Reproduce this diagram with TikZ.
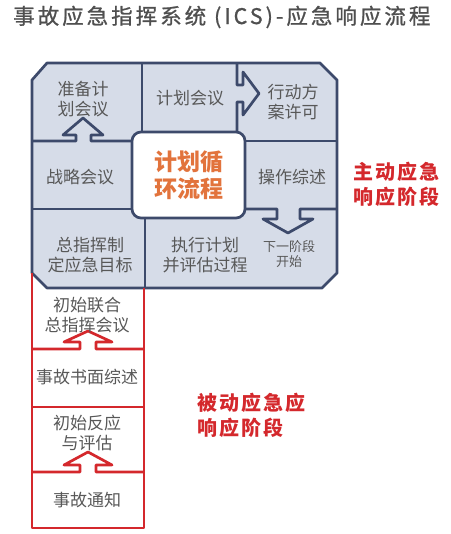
\documentclass[tikz,border=0pt]{standalone}
\usepackage{fontspec}
\setmainfont{Noto Sans CJK SC}
\definecolor{navy}{RGB}{61,74,107}
\definecolor{pale}{RGB}{214,220,232}
\definecolor{alert}{RGB}{212,40,44}
\definecolor{ink}{RGB}{88,88,88}
\definecolor{tangerine}{RGB}{226,115,60}

\begin{document}
\begin{tikzpicture}[x=1pt,y=-1pt,
    boxtext/.style={text=ink,align=center,inner sep=0pt,font=\fontsize{17}{20}\selectfont},
    smalltext/.style={text=ink,align=center,inner sep=0pt,font=\fontsize{13}{15.5}\selectfont},
    phase/.style={text=alert,align=left,anchor=west,inner sep=0pt,
      font=\fontsize{20}{25}\selectfont\bfseries\addfontfeature{LetterSpace=10}},
    navyline/.style={navy,line width=2.7pt,line join=round},
    redline/.style={alert,line width=2.7pt,line join=round}]
  \useasboundingbox (0,0) rectangle (450,534);

  \node[text=ink!90!black,anchor=west,inner sep=0pt,
    font=\fontsize{21.5}{25}\selectfont\addfontfeature{LetterSpace=14,FakeBold=1}] (title) at (13,17)
    {事故应急指挥系统 (ICS)-应急响应流程};

  \draw[navyline,fill=pale] (47,63) -- (320,63) -- (337,80) -- (337,273) -- (322,288)
    -- (47,288) -- (32,273) -- (32,80) -- cycle;

  \draw[navyline] (142,63) -- (142,131);
  \draw[navyline] (237,63) -- (237,85) -- (243,85) -- (243,72) -- (259,93.5)
    -- (243,115) -- (243,102) -- (237,102) -- (237,131);
  \draw[navyline] (32,141) -- (76,141) -- (76,135) -- (63,135) -- (83,118)
    -- (103,135) -- (91,135) -- (91,141) -- (132,141);
  \draw[navyline] (245,141) -- (337,141);
  \draw[navyline] (32,209) -- (132,209);
  \draw[navyline] (245,209) -- (277,209) -- (277,219) -- (263,219) -- (288,233)
    -- (313,219) -- (300,219) -- (300,209) -- (337,209);
  \draw[navyline] (145,218) -- (145,288);

  \node[draw=navy,fill=white,line width=2.7pt,rounded corners=9pt,
    minimum width=113pt,minimum height=86pt,align=center,text=tangerine,
    font=\fontsize{23}{27}\selectfont\bfseries] (hub) at (188.5,175) {计划循\\环流程};

  \node[boxtext] (prep)       at (83,99)   {准备计\\划会议};
  \node[boxtext] (plan)       at (190,98)  {计划会议};
  \node[boxtext] (approve)    at (293,102) {行动方\\案许可};
  \node[boxtext] (strategy)   at (80,177)  {战略会议};
  \node[boxtext] (brief)      at (292,177) {操作综述};
  \node[boxtext] (objectives) at (90,255)  {总指挥制\\定应急目标};
  \node[boxtext] (execute)    at (205,255) {执行计划\\并评估过程};
  \node[smalltext] (next)     at (289,254) {下一阶段\\开始};

  \draw[redline] (32,273) -- (32,528) -- (144,528) -- (144,288);
  \draw[redline] (32,349) -- (80,349) -- (80,342) -- (64,342) -- (88,331)
    -- (112,342) -- (96,342) -- (96,349) -- (144,349);
  \draw[redline] (32,407) -- (144,407);
  \draw[redline] (32,472) -- (80,472) -- (80,465) -- (64,465) -- (88,452)
    -- (112,465) -- (96,465) -- (96,472) -- (144,472);

  \node[boxtext] (joint)   at (87,315) {初始联合\\总指挥会议};
  \node[boxtext] (written) at (87,377) {事故书面综述};
  \node[boxtext] (initial) at (87,433) {初始反应\\与评估};
  \node[boxtext] (notice)  at (87,500) {事故通知};

  \node[phase] (active)  at (353,184) {主动应急\\响应阶段};
  \node[phase] (passive) at (197,415) {被动应急应\\响应阶段};
\end{tikzpicture}
\end{document}
